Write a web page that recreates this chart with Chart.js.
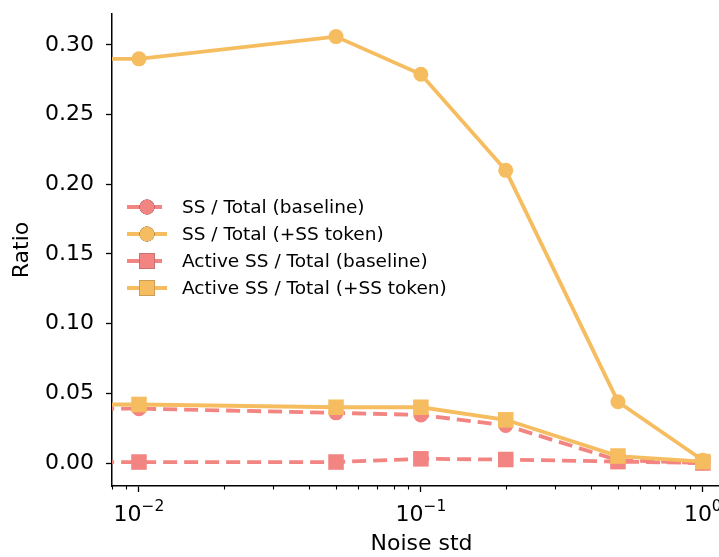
<!DOCTYPE html>
<html>
<head>
<meta charset="utf-8">
<script src="https://cdn.jsdelivr.net/npm/chart.js@4/dist/chart.umd.min.js"></script>
<style>
  html, body { margin: 0; padding: 0; background: #fff; overflow: hidden; }
  #wrap { width: 719px; height: 557px; overflow: hidden; }
</style>
</head>
<body>
<div id="wrap"><canvas id="ratioChart" width="742" height="557"></canvas></div>
<script>
// Noise std levels (0 is clipped to the left edge like matplotlib's log axis)
const NOISE = [0, 0.01, 0.05, 0.1, 0.2, 0.5, 1.0];
const SS_BASE = [0.040, 0.039, 0.036, 0.0345, 0.027, 0.002, 0.000];
const SS_TOKEN = [0.289, 0.290, 0.306, 0.279, 0.210, 0.044, 0.002];
const ACT_BASE = [0.0007, 0.0007, 0.0007, 0.003, 0.0025, 0.001, 0.000];
const ACT_TOKEN = [0.042, 0.042, 0.040, 0.040, 0.031, 0.005, 0.001];

const X_MAJOR = [0.01, 0.1, 1];
const X_EXPONENTS = ['\u22122', '\u22121', '0'];
const X_MINOR = [0.008, 0.009, 0.02, 0.03, 0.04, 0.05, 0.06, 0.07, 0.08, 0.09,
                 0.2, 0.3, 0.4, 0.5, 0.6, 0.7, 0.8, 0.9];
const Y_TICKS = [0, 0.05, 0.10, 0.15, 0.20, 0.25, 0.30];

const SALMON = '#F28482';
const ORANGE = '#F6BD60';
const FONT = 'DejaVu Sans';

function toPoints(values) {
    // log axis: non-positive x gets clipped to a tiny value
    return NOISE.map((x, i) => ({ x: x > 0 ? x : 1e-4, y: values[i] }));
}
function radii(r) {
    return NOISE.map(x => x > 0 ? r : 0);
}

const series = [
    { label: 'SS / Total (baseline)', data: SS_BASE, color: SALMON, dash: [14, 7], style: 'circle', r: 7.5, order: 3 },
    { label: 'SS / Total (+SS token)', data: SS_TOKEN, color: ORANGE, dash: [], style: 'circle', r: 7.5, order: 2 },
    { label: 'Active SS / Total (baseline)', data: ACT_BASE, color: SALMON, dash: [14, 7], style: 'rect', r: 11, order: 1 },
    { label: 'Active SS / Total (+SS token)', data: ACT_TOKEN, color: ORANGE, dash: [], style: 'rect', r: 11, order: 0 }
];

const datasets = series.map(s => ({
    label: s.label,
    data: toPoints(s.data),
    borderColor: s.color,
    backgroundColor: s.color,
    borderWidth: 3.8,
    borderDash: s.dash,
    pointStyle: s.style,
    pointRadius: radii(s.r),
    pointBorderWidth: 0,
    pointBackgroundColor: s.color,
    tension: 0,
    clip: 0,
    order: s.order
}));

// minor ticks, power-of-ten labels and the legend inside the plot
const extras = {
    id: 'extras',
    afterDraw(chart) {
        const ctx = chart.ctx;
        const xs = chart.scales.x;
        const bottom = chart.chartArea.bottom;
        ctx.save();
        ctx.strokeStyle = '#000';
        ctx.lineWidth = 1.1;
        X_MINOR.forEach(v => {
            const px = Math.round(xs.getPixelForValue(v)) + 0.5;
            ctx.beginPath();
            ctx.moveTo(px, bottom);
            ctx.lineTo(px, bottom + 3.5);
            ctx.stroke();
        });

        // 10^n labels
        ctx.fillStyle = '#000';
        ctx.textBaseline = 'alphabetic';
        ctx.textAlign = 'left';
        X_MAJOR.forEach((v, i) => {
            const px = xs.getPixelForValue(v);
            ctx.font = '22px "' + FONT + '"';
            const wBase = ctx.measureText('10').width;
            ctx.font = '15.5px "' + FONT + '"';
            const wExp = ctx.measureText(X_EXPONENTS[i]).width;
            const left = px - (wBase + wExp) / 2;
            ctx.font = '22px "' + FONT + '"';
            ctx.fillText('10', left, bottom + 35);
            ctx.font = '15.5px "' + FONT + '"';
            ctx.fillText(X_EXPONENTS[i], left + wBase, bottom + 25);
        });

        // legend
        const x0 = 127, x1 = 167, xm = 147, tx = 182;
        const rows = [207, 234, 261, 288];
        ctx.font = '18.5px "' + FONT + '"';
        ctx.textBaseline = 'middle';
        series.forEach((s, i) => {
            const y = rows[i];
            ctx.strokeStyle = s.color;
            ctx.lineWidth = 3.8;
            ctx.setLineDash(s.dash);
            ctx.beginPath();
            ctx.moveTo(x0, y);
            ctx.lineTo(x1, y);
            ctx.stroke();
            ctx.setLineDash([]);
            Chart.helpers.drawPoint(ctx, {
                pointStyle: s.style, radius: s.r, rotation: 0, borderWidth: 0
            }, xm, y);
            ctx.fillStyle = s.color;
            ctx.fill();
            ctx.fillStyle = '#000';
            ctx.fillText(s.label, tx, y + 1);
        });
        ctx.restore();
    }
};

new Chart(document.getElementById('ratioChart').getContext('2d'), {
    type: 'line',
    data: { datasets: datasets },
    options: {
        responsive: false,
        animation: false,
        devicePixelRatio: 1,
        layout: { padding: { top: 14, right: 9, left: 0, bottom: 0 } },
        plugins: {
            legend: { display: false },
            tooltip: { enabled: false }
        },
        scales: {
            x: {
                type: 'logarithmic',
                min: Math.pow(10, -2.0957),
                max: Math.pow(10, 0.1),
                afterBuildTicks: scale => { scale.ticks = X_MAJOR.map(v => ({ value: v })); },
                afterFit: scale => { scale.height = 71; scale.paddingLeft = 0; scale.paddingRight = 0; },
                border: { display: true, color: '#000', width: 1.5 },
                grid: { display: true, drawOnChartArea: false, drawTicks: true, tickLength: 6, tickColor: '#000', tickWidth: 1.3 },
                ticks: {
                    autoSkip: false,
                    maxRotation: 0,
                    padding: 6,
                    color: '#000',
                    font: { family: FONT, size: 22 },
                    callback: () => ''
                },
                title: { display: true, text: 'Noise std', color: '#000', font: { family: FONT, size: 22 }, padding: { top: 0, bottom: 0 } }
            },
            y: {
                type: 'linear',
                min: -0.0165,
                max: 0.3222,
                afterBuildTicks: scale => { scale.ticks = Y_TICKS.map(v => ({ value: v })); },
                afterFit: scale => { scale.width = 112; scale.paddingTop = 0; scale.paddingBottom = 0; },
                border: { display: true, color: '#000', width: 1.5 },
                grid: { display: true, drawOnChartArea: false, drawTicks: true, tickLength: 6, tickColor: '#000', tickWidth: 1.3 },
                ticks: {
                    padding: 12,
                    color: '#000',
                    font: { family: FONT, size: 22 },
                    callback: v => Number(v).toFixed(2)
                },
                title: { display: true, text: 'Ratio', color: '#000', font: { family: FONT, size: 22 }, padding: { top: 9, bottom: 0 } }
            }
        }
    },
    plugins: [extras]
});
</script>
</body>
</html>
